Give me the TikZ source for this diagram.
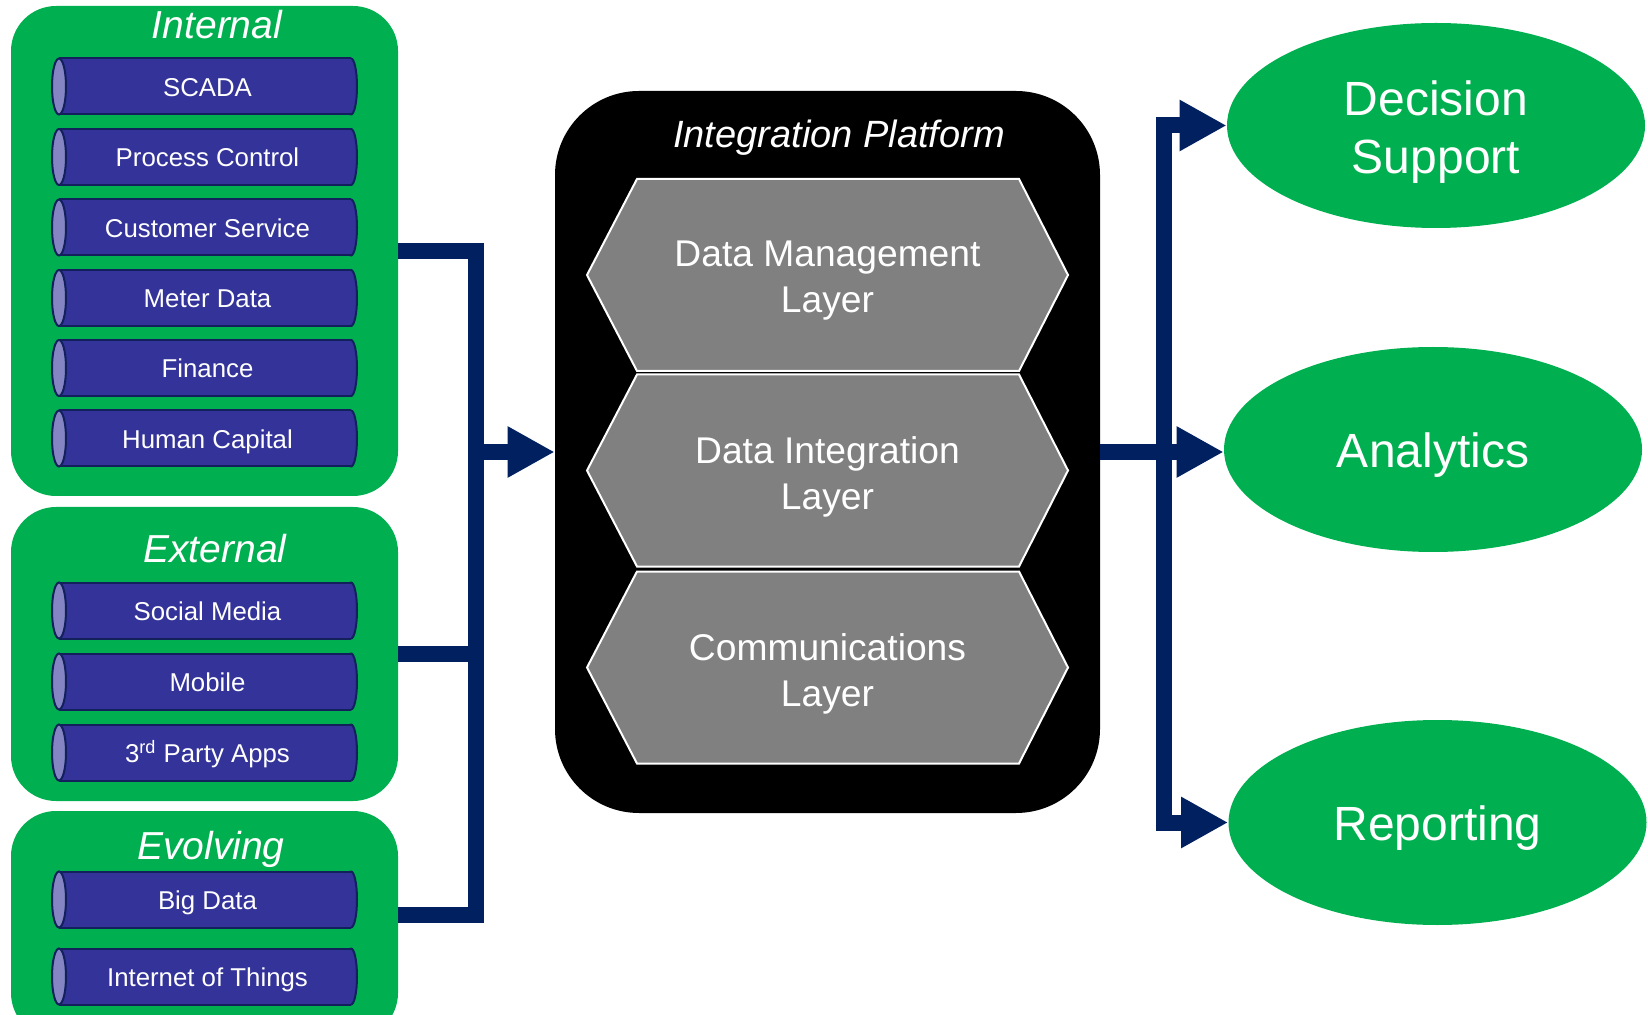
\documentclass[tikz,border=0pt]{standalone}
\usepackage{fontspec}
\setmainfont{Liberation Sans}
\usetikzlibrary{arrows.meta,shapes.geometric}

\definecolor{boxgreen}{HTML}{00B050}
\definecolor{pipeblue}{HTML}{333399}
\definecolor{pipeface}{HTML}{8585C4}
\definecolor{pipeedge}{HTML}{12205C}
\definecolor{linkblue}{HTML}{002060}
\definecolor{layergray}{HTML}{808080}

\tikzset{
  group/.style={fill=boxgreen, rounded corners=22.5pt, minimum width=193.5pt, inner sep=0pt},
  grouptitle/.style={text=white, anchor=base, inner sep=0pt, font=\fontsize{19.5}{23}\selectfont\itshape},
  pipebody/.style={fill=pipeblue},
  pipeline/.style={draw=pipeedge, line width=1pt},
  pipecap/.style={fill=pipeblue, draw=pipeedge, line width=1pt},
  pipeend/.style={fill=pipeface, draw=pipeedge, line width=1pt},
  pipelabel/.style={text=white, anchor=base, inner sep=0pt, font=\fontsize{12.9}{15}\selectfont},
  platform/.style={fill=black, rounded corners=42pt, minimum width=272.5pt, minimum height=361pt, inner sep=0pt},
  layer/.style={fill=layergray, draw=white, line width=1pt},
  layerlabel/.style={text=white, align=center, inner sep=0pt, font=\fontsize{18.6}{23}\selectfont},
  outcome/.style={ellipse, fill=boxgreen, minimum width=209pt, minimum height=102.5pt, inner sep=0pt,
    text=white, align=center, font=\fontsize{24}{29}\selectfont},
  conn/.style={draw=linkblue, line width=8pt, line join=miter},
  arr/.style={conn, -{Triangle[length=23.5pt, width=24pt]}},
}

% a horizontal pipe: name, centre y, label
\newcommand\pipe[3]{%
  \filldraw[pipecap] (351,#2) ellipse [x radius=6, y radius=28];
  \fill[pipebody] (59,#2-28) rectangle (351,#2+28);
  \draw[pipeline] (59,#2-28) -- (351,#2-28) (59,#2+28) -- (351,#2+28);
  \filldraw[pipeend] (59,#2) ellipse [x radius=7, y radius=28];
  \node[pipelabel] (#1) at (207.5,#2+10) {#3};
}

% a hexagonal platform layer: name, centre y, label
\newcommand\layer[3]{%
  \filldraw[layer] (587,#2) -- (637,#2-96) -- (1019,#2-96) -- (1068,#2)
    -- (1019,#2+96) -- (637,#2+96) -- cycle;
  \node[layerlabel] (#1) at (827.5,#2+6) {#3};
}

\begin{document}
\begin{tikzpicture}[x=0.5pt, y=-0.5pt]
  \useasboundingbox (0,0) rectangle (1648,1015);
  \clip (0,0) rectangle (1648,1015);

  % source groups
  \node[group, minimum height=245pt] (internal) at (204.5,251) {};
  \node[group, minimum height=147pt] (external) at (204.5,654) {};
  \node[group, minimum height=113.5pt] (evolving) at (204.5,924.5) {};

  \node[grouptitle] (tinternal) at (217,39) {Internal};
  \node[grouptitle] (texternal) at (215,562) {External};
  \node[grouptitle] (tevolving) at (211,859) {Evolving};

  \pipe{scada}{86.5}{SCADA}
  \pipe{process}{157}{Process Control}
  \pipe{customer}{227.5}{Customer Service}
  \pipe{meter}{298}{Meter Data}
  \pipe{finance}{368}{Finance}
  \pipe{human}{438.5}{Human Capital}

  \pipe{social}{610.5}{Social Media}
  \pipe{mobile}{681.5}{Mobile}
  \pipe{thirdparty}{752.5}{3\textsuperscript{rd} Party Apps}

  \pipe{bigdata}{899.5}{Big Data}
  \pipe{iot}{976.5}{Internet of Things}

  % integration platform
  \node[platform] (platform) at (827.5,452) {};
  \node[text=white, anchor=base, inner sep=0pt, font=\fontsize{19}{23}\selectfont\itshape]
    (plattitle) at (839,148) {Integration Platform};

  \layer{datamgmt}{275}{Data Management\\Layer}
  \layer{dataint}{470.5}{Data Integration\\Layer}
  \layer{comms}{667.5}{Communications\\Layer}

  % outcomes
  \node[outcome] (decision) at (1436,125.5) {};
  \node[outcome, fill=none] (decisionlabel) at (1436,132) {Decision\\Support};
  \node[outcome] (analytics) at (1433,449.5) {};
  \node[outcome, fill=none] (analyticslabel) at (1433,455) {Analytics};
  \node[outcome] (reporting) at (1437.5,822.5) {};
  \node[outcome, fill=none] (reportinglabel) at (1437.5,828) {Reporting};

  % inbound bus
  \coordinate (lbus) at (476,915);
  \draw[conn] (internal.east) -| (lbus) -- (evolving.east |- lbus);
  \draw[conn] (external.east) -- (external.east -| lbus);
  \draw[arr] (platform.west -| lbus) -- (platform.west);

  % outbound bus
  \coordinate (rbus) at (1164,0);
  \draw[arr] (platform.east) -- (platform.east -| analytics.west);
  \draw[arr] (platform.east -| rbus) |- (decision.west);
  \draw[arr] (platform.east -| rbus) |- (reporting.west);
\end{tikzpicture}
\end{document}
